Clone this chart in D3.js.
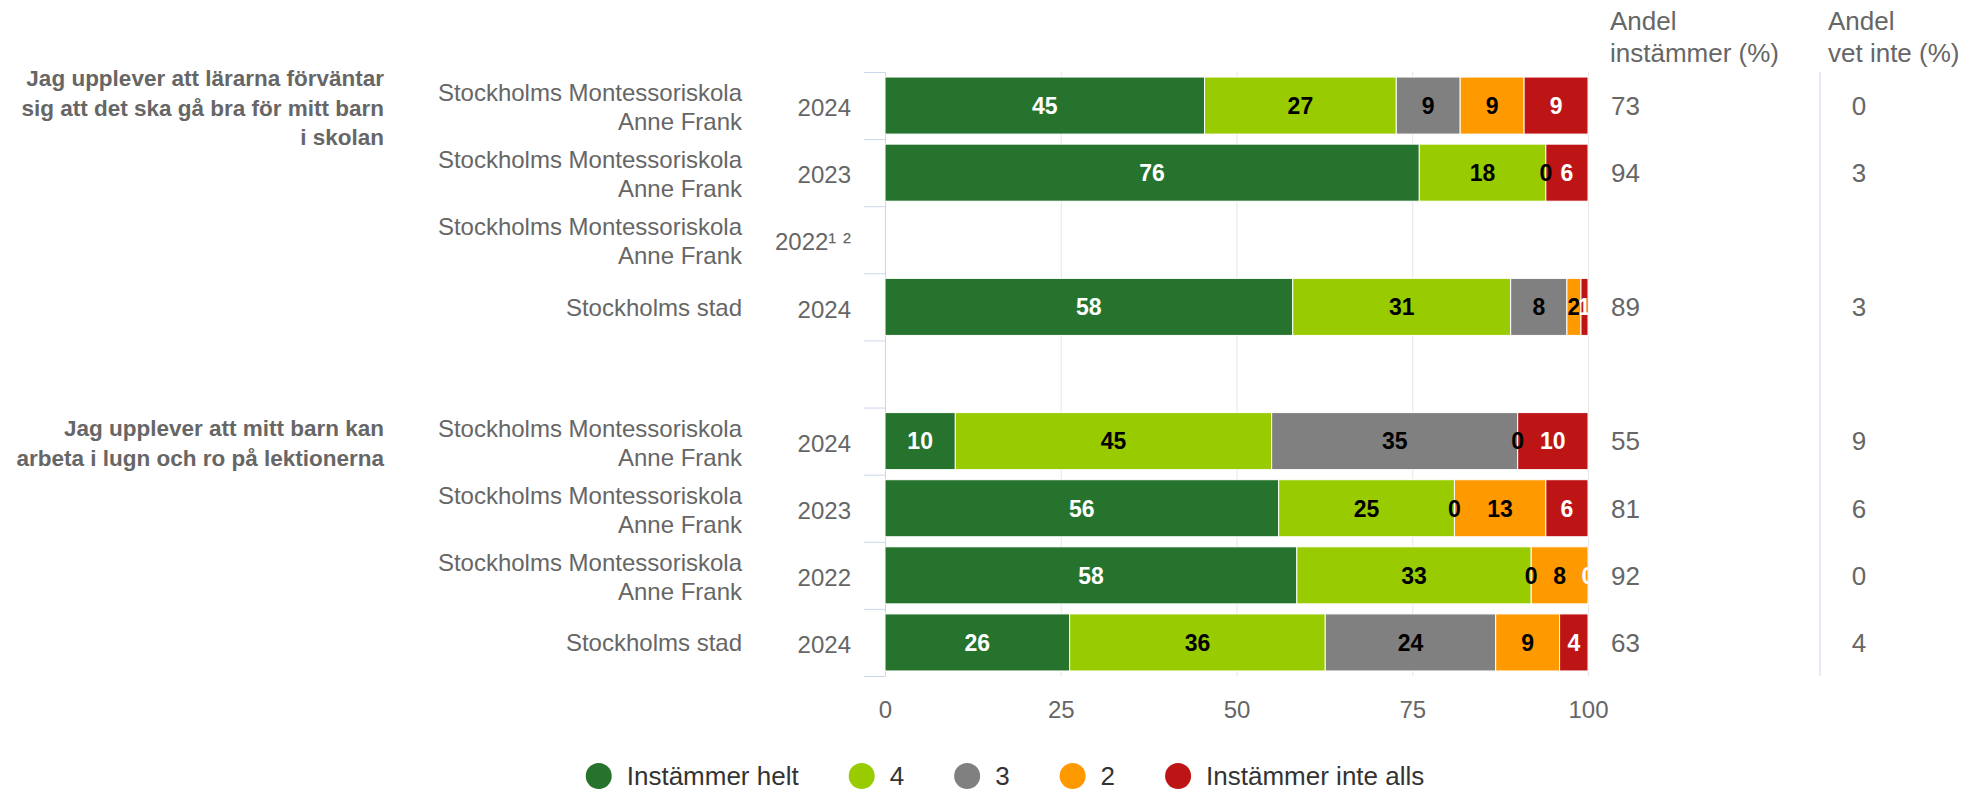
<!DOCTYPE html>
<html>
<head>
<meta charset="utf-8">
<script src="https://cdn.jsdelivr.net/npm/d3@7"></script>
<style>
    body { margin: 0; background: #fff; }
    svg { font-family: "Liberation Sans", Arial, Helvetica, sans-serif; }
</style>
</head>
<body>
<div id="chart"></div>
<script>
// Rows of the chart (row 4 is the empty gap between the two questions)
const schools = [
    ["Stockholms Montessoriskola", "Anne Frank"],
    ["Stockholms Montessoriskola", "Anne Frank"],
    ["Stockholms Montessoriskola", "Anne Frank"],
    ["Stockholms stad"],
    [],
    ["Stockholms Montessoriskola", "Anne Frank"],
    ["Stockholms Montessoriskola", "Anne Frank"],
    ["Stockholms Montessoriskola", "Anne Frank"],
    ["Stockholms stad"]
];
const years = ["2024", "2023", "2022¹ ²", "2024", "", "2024", "2023", "2022", "2024"];

const questions = [
    ["Jag upplever att lärarna förväntar", "sig att det ska gå bra för mitt barn", "i skolan"],
    ["Jag upplever att mitt barn kan", "arbeta i lugn och ro på lektionerna"]
];
const questionRows = [0, 5];

// Series values (percent, as labelled)
const seriesNames = ["Instämmer helt", "4", "3", "2", "Instämmer inte alls"];
const helt     = [45, 76, null, 58, null, 10, 56, 58, 26];
const fyra     = [27, 18, null, 31, null, 45, 25, 33, 36];
const tre      = [9,  0,  null, 8,  null, 35, 0,  0,  24];
const tva      = [9,  0,  null, 2,  null, 0,  13, 8,  9];
const inteAlls = [9,  6,  null, 1,  null, 10, 6,  0,  4];

const andelInstammer = [73, 94, null, 89, null, 55, 81, 92, 63];
const andelVetInte   = [0,  3,  null, 3,  null, 9,  6,  0,  4];

const xTicks = [0, 25, 50, 75, 100];

const colors = ["#26732e", "#99cc00", "#808080", "#ff9900", "#bd1515"];
const labelColors = ["#ffffff", "#000000", "#000000", "#000000", "#ffffff"];

// Build table for d3.stack
const seriesValues = [helt, fyra, tre, tva, inteAlls];
const table = years.map((y, i) => {
    const row = {index: i};
    seriesNames.forEach((name, k) => row[name] = seriesValues[k][i]);
    return row;
});

const width = 1970, height = 792;
const plot = {left: 885, right: 1588, top: 72, bottom: 676};

const svg = d3.select("#chart").append("svg")
    .attr("width", width)
    .attr("height", height);

const xScale = d3.scaleLinear()
    .domain([0, 100])
    .range([plot.left, plot.right]);

const yScale = d3.scaleBand()
    .domain(d3.range(years.length))
    .range([plot.top, plot.bottom])
    .paddingInner(0.15)
    .paddingOuter(0.075);

const rowCenter = i => yScale(i) + yScale.bandwidth() / 2;

// Gridlines
svg.append("g")
    .attr("transform", "translate(0," + plot.bottom + ")")
    .call(d3.axisBottom(xScale).tickValues(xTicks.slice(1)).tickSize(-(plot.bottom - plot.top)).tickFormat(""))
    .call(g => g.select(".domain").remove())
    .call(g => g.selectAll("line").attr("stroke", "#e6e6e6"));

// X axis labels
svg.append("g")
    .attr("transform", "translate(0," + plot.bottom + ")")
    .call(d3.axisBottom(xScale).tickValues(xTicks).tickSize(0).tickPadding(0))
    .call(g => g.select(".domain").remove())
    .call(g => g.selectAll("text")
        .attr("y", 42)
        .attr("dy", 0)
        .attr("fill", "#666666")
        .style("font-size", "24px")
        .style("font-family", "inherit"));

// Category axis with tick marks between rows
const boundaryScale = d3.scaleLinear()
    .domain([0, years.length])
    .range([plot.top, plot.bottom]);

svg.append("g")
    .attr("transform", "translate(" + plot.left + ",0)")
    .call(d3.axisLeft(boundaryScale).tickValues(d3.range(years.length + 1)).tickSize(21).tickSizeOuter(0).tickFormat(""))
    .call(g => g.select(".domain").attr("stroke", "#ccd6eb"))
    .call(g => g.selectAll(".tick line").attr("stroke", "#ccd6eb"));

// Stacked bars (percent stacking)
const stack = d3.stack()
    .keys(seriesNames)
    .offset(d3.stackOffsetExpand);
const stacked = stack(table);

const bars = svg.append("g");
stacked.forEach((layer, k) => {
    bars.selectAll(".bar" + k)
        .data(layer.filter(d => d.data[seriesNames[k]] != null && d.data[seriesNames[k]] > 0))
        .enter().append("rect")
        .attr("x", d => xScale(d[0] * 100))
        .attr("y", d => yScale(d.data.index))
        .attr("width", d => xScale(d[1] * 100) - xScale(d[0] * 100))
        .attr("height", yScale.bandwidth())
        .attr("fill", colors[k])
        .attr("stroke", "#ffffff")
        .attr("stroke-width", 1);
});

// Data labels, clipped to plot area
svg.append("clipPath")
    .attr("id", "plotClip")
    .append("rect")
    .attr("x", plot.left)
    .attr("y", plot.top)
    .attr("width", plot.right - plot.left)
    .attr("height", plot.bottom - plot.top);

const labels = svg.append("g").attr("clip-path", "url(#plotClip)");
stacked.forEach((layer, k) => {
    const shown = layer.filter(d => {
        const v = d.data[seriesNames[k]];
        if (v == null) return false;
        // hide a zero label sitting exactly on top of another zero label
        if (v === 0 && k > 0 && d.data[seriesNames[k - 1]] === 0) return false;
        return true;
    });
    labels.selectAll(".lab" + k)
        .data(shown)
        .enter().append("text")
        .attr("x", d => xScale((d[0] + d[1]) / 2 * 100))
        .attr("y", d => rowCenter(d.data.index))
        .attr("dy", "0.36em")
        .attr("text-anchor", "middle")
        .attr("fill", labelColors[k])
        .style("font-size", "23px")
        .style("font-weight", "bold")
        .text(d => d.data[seriesNames[k]]);
});

// School labels
const schoolGroup = svg.append("g");
schools.forEach((lines, i) => {
    const c = rowCenter(i);
    const offsets = lines.length === 2 ? [-13, 16] : [0];
    lines.forEach((line, j) => {
        schoolGroup.append("text")
            .attr("x", 742)
            .attr("y", c + offsets[j])
            .attr("dy", "0.36em")
            .attr("text-anchor", "end")
            .attr("fill", "#666666")
            .style("font-size", "24px")
            .text(line);
    });
});

// Year labels
svg.append("g").selectAll("text")
    .data(years)
    .enter().append("text")
    .attr("x", 851)
    .attr("y", (d, i) => rowCenter(i) + 2)
    .attr("dy", "0.36em")
    .attr("text-anchor", "end")
    .attr("fill", "#666666")
    .style("font-size", "24px")
    .text(d => d);

// Question labels
questions.forEach((lines, q) => {
    const c = rowCenter(questionRows[q]) + 2;
    const lh = 29.5;
    lines.forEach((line, j) => {
        svg.append("text")
            .attr("x", 384)
            .attr("y", c + (j - (lines.length - 1) / 2) * lh)
            .attr("dy", "0.36em")
            .attr("text-anchor", "end")
            .attr("fill", "#666666")
            .style("font-size", "22.5px")
            .style("font-weight", "bold")
            .text(line);
    });
});

// Extra columns
const headers = [
    {x: 1610, lines: ["Andel", "instämmer (%)"]},
    {x: 1828, lines: ["Andel", "vet inte (%)"]}
];
headers.forEach(h => {
    h.lines.forEach((line, j) => {
        svg.append("text")
            .attr("x", h.x)
            .attr("y", 30 + j * 32)
            .attr("fill", "#666666")
            .style("font-size", "26px")
            .text(line);
    });
});

svg.append("line")
    .attr("x1", 1820).attr("x2", 1820)
    .attr("y1", plot.top).attr("y2", plot.bottom)
    .attr("stroke", "#ccd6eb");

svg.append("g").selectAll("text")
    .data(andelInstammer)
    .enter().append("text")
    .attr("x", 1611)
    .attr("y", (d, i) => rowCenter(i))
    .attr("dy", "0.36em")
    .attr("fill", "#666666")
    .style("font-size", "26px")
    .text(d => d == null ? "" : d);

svg.append("g").selectAll("text")
    .data(andelVetInte)
    .enter().append("text")
    .attr("x", 1859)
    .attr("y", (d, i) => rowCenter(i))
    .attr("dy", "0.36em")
    .attr("text-anchor", "middle")
    .attr("fill", "#666666")
    .style("font-size", "26px")
    .text(d => d == null ? "" : d);

// Legend
const legend = svg.append("g");
let cursor = 0;
seriesNames.forEach((name, k) => {
    const item = legend.append("g").attr("transform", "translate(" + cursor + ",0)");
    item.append("circle")
        .attr("cx", 13).attr("cy", 0).attr("r", 13)
        .attr("fill", colors[k]);
    const t = item.append("text")
        .attr("x", 41)
        .attr("dy", "0.36em")
        .attr("fill", "#333333")
        .style("font-size", "26px")
        .text(name);
    cursor += 41 + t.node().getComputedTextLength() + 50;
});
const legendWidth = cursor - 50;
legend.attr("transform", "translate(" + (1005 - legendWidth / 2) + ",776)");
</script>
</body>
</html>
